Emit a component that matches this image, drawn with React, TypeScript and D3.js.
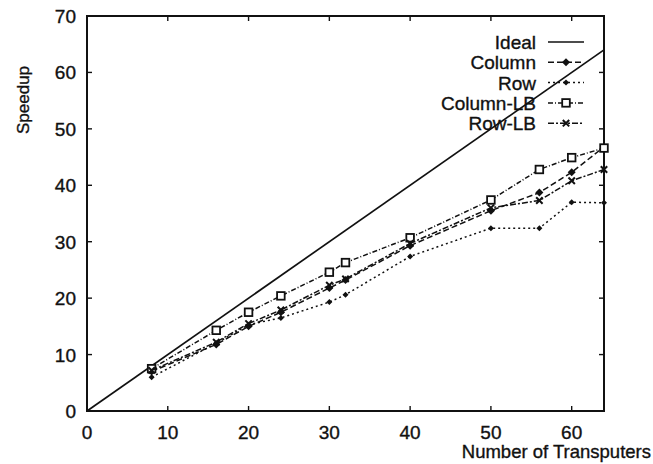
import React from 'react';
import * as d3 from 'd3';

// Speedup vs. number of transputers
const PROCS = [8, 16, 20, 24, 30, 32, 40, 50, 56, 60, 64];
const COLUMN = [7.0, 11.8, 15.0, 17.5, 21.8, 23.2, 29.3, 35.5, 38.7, 42.3, 46.8];
const ROW = [6.0, 12.0, 15.3, 16.5, 19.3, 20.6, 27.4, 32.4, 32.4, 37.0, 36.9];
const COLUMN_LB = [7.5, 14.3, 17.5, 20.4, 24.6, 26.3, 30.7, 37.4, 42.8, 44.9, 46.6];
const ROW_LB = [7.2, 12.2, 15.5, 17.9, 22.3, 23.4, 29.7, 36.0, 37.3, 40.8, 42.8];
const IDEAL_X = [0, 64];

const X_TICKS = [0, 10, 20, 30, 40, 50, 60];
const Y_TICKS = [0, 10, 20, 30, 40, 50, 60, 70];

const SERIES = [
  { name: 'Column', values: COLUMN, dash: '6,3', marker: 'diamond' },
  { name: 'Row', values: ROW, dash: '2,3', marker: 'smalldiamond' },
  { name: 'Column-LB', values: COLUMN_LB, dash: '5,2,1,2', marker: 'square' },
  { name: 'Row-LB', values: ROW_LB, dash: '6,2,2,2', marker: 'cross' },
];

const W = 653;
const H = 464;
const margin = { top: 16, right: 49, bottom: 53, left: 87 };
const FONT = '"Liberation Sans", Arial, sans-serif';
const INK = '#111';
const FS = 19;

function Label(props: React.SVGProps<SVGTextElement>) {
  return (
    <text fontFamily={FONT} fontSize={FS} fill={INK} stroke={INK} strokeWidth={0.35} {...props} />
  );
}

function Marker({ type, x, y }: { type: string; x: number; y: number }) {
  if (type === 'diamond') {
    const r = 4;
    return <path d={`M${x},${y - r}L${x + r},${y}L${x},${y + r}L${x - r},${y}Z`} fill={INK} />;
  }
  if (type === 'smalldiamond') {
    const r = 3;
    return <path d={`M${x},${y - r}L${x + r},${y}L${x},${y + r}L${x - r},${y}Z`} fill={INK} />;
  }
  if (type === 'square') {
    return <rect x={x - 3.8} y={y - 3.8} width={7.6} height={7.6} fill="white" stroke={INK} strokeWidth={1.8} />;
  }
  const r = 3.2;
  return (
    <path d={`M${x - r},${y - r}L${x + r},${y + r}M${x - r},${y + r}L${x + r},${y - r}`} stroke={INK} strokeWidth={2} />
  );
}

export default function App() {
  const innerW = W - margin.left - margin.right;
  const innerH = H - margin.top - margin.bottom;

  const x = d3.scaleLinear().domain([0, 64]).range([margin.left, margin.left + innerW]);
  const y = d3.scaleLinear().domain([0, 70]).range([margin.top + innerH, margin.top]);

  const line = d3
    .line<[number, number]>()
    .x((d) => x(d[0]))
    .y((d) => y(d[1]));

  const x0 = x(0);
  const x1 = x(64);
  const y0 = y(0);
  const y1 = y(70);
  const tick = 5;

  const legendX = 536;
  const legendY0 = 42;
  const legendStep = 20.3;

  return (
    <svg width={W} height={H} style={{ position: 'absolute', left: 0, top: 0, background: 'white' }}>
      <rect x={0} y={0} width={W} height={H} fill="white" />

      {/* frame */}
      <rect x={x0} y={y1} width={x1 - x0} height={y0 - y1} fill="none" stroke={INK} strokeWidth={2} />

      {/* ticks on all four sides */}
      {X_TICKS.filter((t) => t > 0).map((t) => (
        <g key={'xt' + t}>
          <line x1={x(t)} x2={x(t)} y1={y0} y2={y0 - tick} stroke={INK} strokeWidth={1.4} />
          <line x1={x(t)} x2={x(t)} y1={y1} y2={y1 + tick} stroke={INK} strokeWidth={1.4} />
        </g>
      ))}
      {Y_TICKS.filter((t) => t > 0 && t < 70).map((t) => (
        <g key={'yt' + t}>
          <line x1={x0} x2={x0 + tick} y1={y(t)} y2={y(t)} stroke={INK} strokeWidth={1.4} />
          <line x1={x1} x2={x1 - tick} y1={y(t)} y2={y(t)} stroke={INK} strokeWidth={1.4} />
        </g>
      ))}

      {/* tick labels */}
      {X_TICKS.map((t) => (
        <Label key={'xl' + t} x={x(t)} y={y0 + 28} textAnchor="middle">
          {t}
        </Label>
      ))}
      {Y_TICKS.map((t) => (
        <Label key={'yl' + t} x={x0 - 11} y={y(t) + 7} textAnchor="end">
          {t}
        </Label>
      ))}

      {/* axis titles */}
      <Label transform={`translate(29,100) rotate(-90)`} textAnchor="middle" fontSize={17}>
        Speedup
      </Label>
      <Label x={651} y={458} textAnchor="end" fontSize={18.5}>
        Number of Transputers
      </Label>

      {/* ideal */}
      <path
        d={line(IDEAL_X.map((v) => [v, v] as [number, number])) || ''}
        fill="none"
        stroke={INK}
        strokeWidth={1.7}
      />

      {/* series */}
      {SERIES.map((s) => (
        <g key={s.name}>
          <path
            d={line(PROCS.map((p, i) => [p, s.values[i]] as [number, number])) || ''}
            fill="none"
            stroke={INK}
            strokeWidth={1.5}
            strokeDasharray={s.dash}
          />
          {PROCS.map((p, i) => (
            <Marker key={i} type={s.marker} x={x(p)} y={y(s.values[i])} />
          ))}
        </g>
      ))}

      {/* legend */}
      <g>
        <Label x={legendX} y={legendY0 + 7} textAnchor="end">
          Ideal
        </Label>
        <line x1={548} x2={584} y1={legendY0} y2={legendY0} stroke={INK} strokeWidth={1.7} />
        {SERIES.map((s, i) => {
          const ly = legendY0 + legendStep * (i + 1);
          return (
            <g key={'lg' + s.name}>
              <Label x={legendX} y={ly + 7} textAnchor="end">
                {s.name}
              </Label>
              <line x1={548} x2={584} y1={ly} y2={ly} stroke={INK} strokeWidth={1.5} strokeDasharray={s.dash} />
              <Marker type={s.marker} x={566} y={ly} />
            </g>
          );
        })}
      </g>
    </svg>
  );
}
